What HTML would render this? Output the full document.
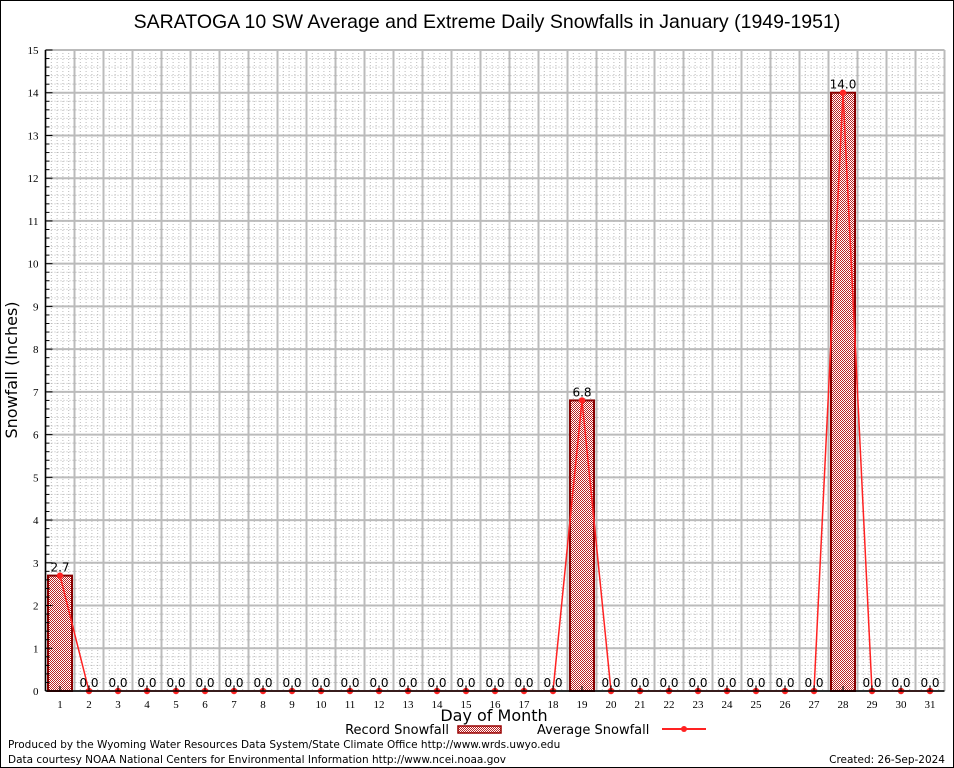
<!DOCTYPE html>
<html><head><meta charset="utf-8"><style>
body{margin:0;background:#fff}
svg{display:block;font-family:"DejaVu Sans","Liberation Sans",sans-serif}
</style></head><body>
<svg id="c" width="954" height="768">
<defs>
<pattern id="hatch" width="2" height="2" patternUnits="userSpaceOnUse">
<rect width="2" height="2" fill="#fff"/>
<rect width="1" height="1" fill="#b22"/><rect x="1" y="1" width="1" height="1" fill="#b22"/>
</pattern>
</defs>
<rect x="0.5" y="0.5" width="953" height="767" fill="#fff" stroke="#000"/>
<text x="487" y="28" font-size="19.5" text-anchor="middle" font-family="Liberation Sans, sans-serif">SARATOGA 10 SW Average and Extreme Daily Snowfalls in January (1949-1951)</text>
<g id="grid"></g><g id="bars"></g><g id="line"></g><g id="labels"></g><g id="axes"></g>
<text transform="translate(17,370) rotate(-90)" font-size="16" text-anchor="middle">Snowfall (Inches)</text>
<text x="494" y="721" font-size="16" text-anchor="middle">Day of Month</text>
<g>
<text x="449" y="734" font-size="13" text-anchor="end">Record Snowfall</text>
<rect x="458" y="726" width="43" height="7" fill="url(#hatch)" stroke="#900" stroke-width="1.5"/>
<text x="537" y="734" font-size="13">Average Snowfall</text>
<line x1="662" y1="729" x2="706" y2="729" stroke="#f22" stroke-width="2"/>
<circle cx="684" cy="729" r="3" fill="#f22"/>
</g>
<text x="8" y="748" font-size="10.5">Produced by the Wyoming Water Resources Data System/State Climate Office http://www.wrds.uwyo.edu</text>
<text x="8" y="763" font-size="10.5">Data courtesy NOAA National Centers for Environmental Information http://www.ncei.noaa.gov</text>
<text x="945" y="763" font-size="10.5" text-anchor="end">Created:  26-Sep-2024</text>
</svg>
<script>
const days=[1,2,3,4,5,6,7,8,9,10,11,12,13,14,15,16,17,18,19,20,21,22,23,24,25,26,27,28,29,30,31];
const recordSnow=[2.7,0,0,0,0,0,0,0,0,0,0,0,0,0,0,0,0,0,6.8,0,0,0,0,0,0,0,0,14.0,0,0,0];
const avgSnow=[2.7,0,0,0,0,0,0,0,0,0,0,0,0,0,0,0,0,0,6.8,0,0,0,0,0,0,0,0,14.0,0,0,0];
const yTicks=[0,1,2,3,4,5,6,7,8,9,10,11,12,13,14,15];
const L=45.5,R=944.5,T=50,B=691,yMax=15;
const xs=d=>L+(d-0.5)*(R-L)/31;
const ys=v=>B-v*(B-T)/yMax;
const NS="http://www.w3.org/2000/svg";
function mk(tag,parent,attrs){const e=document.createElementNS(NS,tag);for(const k in attrs)e.setAttribute(k,attrs[k]);parent.appendChild(e);return e;}
const grid=document.getElementById('grid'),bars=document.getElementById('bars'),line=document.getElementById('line'),labels=document.getElementById('labels'),axes=document.getElementById('axes');
mk('rect',grid,{x:L,y:T,width:R-L,height:B-T,fill:'#fff'});
for(let i=0;i<=yMax*5;i++){if(i%5==0)continue;const y=ys(i/5);const l=mk('line',grid,{x1:L,x2:R,y1:y,y2:y,stroke:'#bbb','stroke-width':1,'stroke-dasharray':'1,2'});}
for(let i=0;i<=31*5;i++){if(i%5==0)continue;const x=xs(0.5+i/5);const l=mk('line',grid,{x1:x,x2:x,y1:T,y2:B,stroke:'#bbb','stroke-width':1,'stroke-dasharray':'1,2'});}
yTicks.forEach(v=>{const y=ys(v);const l=mk('line',grid,{x1:L,x2:R,y1:y,y2:y,stroke:'#bbb','stroke-width':2});
const t=mk('text',axes,{x:L-7,y:y+4,'font-size':11,'text-anchor':'end','font-family':'Liberation Serif, serif'});t.textContent=v;
for(let k=1;k<5&&v<yMax;k++){const yy=ys(v+k/5);mk('line',axes,{x1:L,x2:L+4,y1:yy,y2:yy,stroke:'#000'});}
mk('line',axes,{x1:L,x2:L+7,y1:y,y2:y,stroke:'#000'});});
for(let d=0;d<=31;d++){const x=xs(d+0.5);const l=mk('line',grid,{x1:x,x2:x,y1:T,y2:B,stroke:'#bbb','stroke-width':2});}
days.forEach((d,i)=>{const x=xs(d);
const t=mk('text',axes,{x:x,y:B+17,'font-size':11,'text-anchor':'middle','font-family':'Liberation Serif, serif'});t.textContent=d;
mk('line',axes,{x1:x,x2:x,y1:B,y2:B-5,stroke:'#000'});
const v=recordSnow[i];
if(v>0){const w=24;const r=mk('rect',bars,{x:x-w/2,y:ys(v),width:w,height:B-ys(v),fill:'url(#hatch)',stroke:'#800','stroke-width':2});}
const lb=mk('text',labels,{x:x,y:ys(v)-4,'font-size':12,'text-anchor':'middle'});lb.textContent=v.toFixed(1);
});
const pts=days.map((d,i)=>xs(d)+','+ys(avgSnow[i])).join(' ');
const pl=mk('polyline',line,{points:pts,fill:'none',stroke:'#f22','stroke-width':1.5});
days.forEach((d,i)=>{const c=mk('circle',line,{cx:xs(d),cy:ys(avgSnow[i]),r:3.2,fill:'#f22'});});
mk('line',axes,{x1:L,x2:L,y1:T,y2:B,stroke:'#000','stroke-width':1.5});
mk('line',axes,{x1:L,x2:R,y1:B,y2:B,stroke:'#000','stroke-width':1.5});
</script>
</body></html>
